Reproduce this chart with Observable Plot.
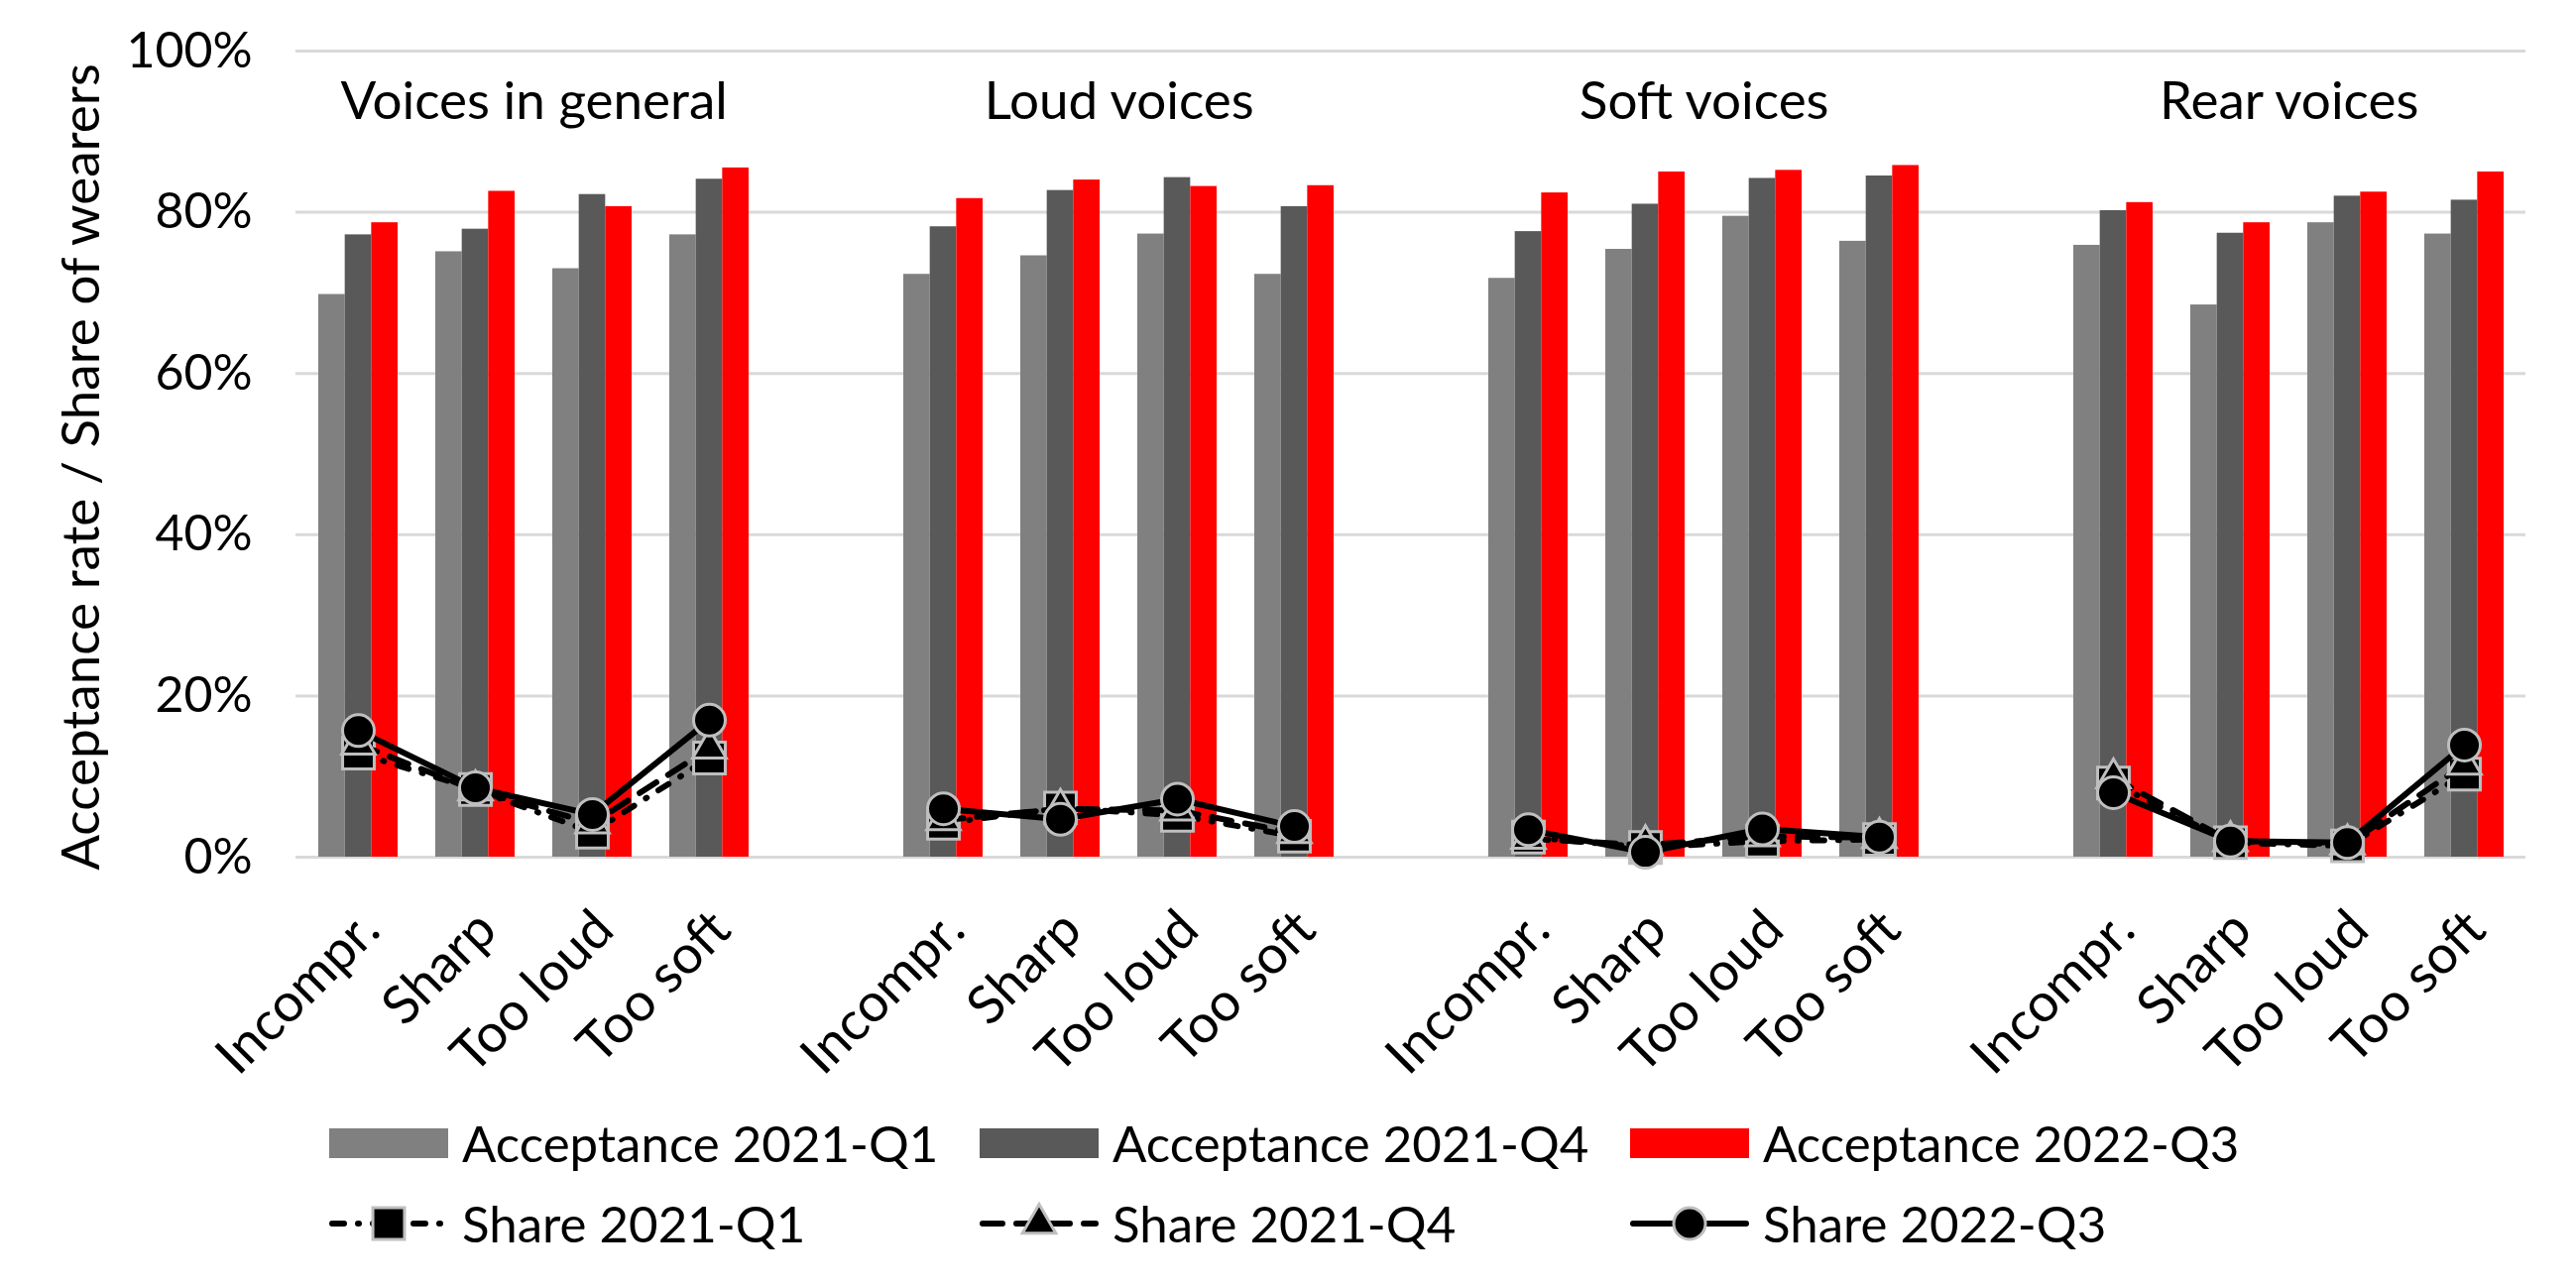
<!DOCTYPE html>
<html>
<head>
<meta charset="utf-8">
<script src="https://cdn.jsdelivr.net/npm/d3@7"></script>
<script src="https://cdn.jsdelivr.net/npm/@observablehq/plot@0.6"></script>
<style>
  html, body { margin: 0; padding: 0; background: #fff; }
  body { font-family: Lato, sans-serif; width: 2598px; height: 1299px; overflow: hidden; }
  #chart svg { display: block; }
  #legend { margin-top: 12px; padding-left: 332px; }
  .row { display: flex; height: 81px; align-items: center; }
  .item { display: flex; align-items: center; width: 656px; flex: none; }
  .item svg { display: block; flex: none; }
  .item span { font-size: 51px; margin-left: 14px; white-space: nowrap; line-height: 1; color: #000; }
</style>
</head>
<body>
<div id="chart"></div>
<div id="legend"></div>
<script>
// ---------- data ----------
const groups = ["Voices in general", "Loud voices", "Soft voices", "Rear voices"];
const categories = ["Incompr.", "Sharp", "Too loud", "Too soft"];
const yTicks = [0, 20, 40, 60, 80, 100];

const barSeries = ["Acceptance 2021-Q1", "Acceptance 2021-Q4", "Acceptance 2022-Q3"];
const lineSeries = ["Share 2021-Q1", "Share 2021-Q4", "Share 2022-Q3"];

// values in %, ordered group by group, category by category
const acc2021Q1 = [69.8, 75.1, 73.0, 77.2,  72.3, 74.6, 77.3, 72.3,  71.8, 75.4, 79.5, 76.4,  75.9, 68.5, 78.7, 77.3];
const acc2021Q4 = [77.2, 77.9, 82.2, 84.1,  78.2, 82.7, 84.3, 80.7,  77.6, 81.0, 84.2, 84.5,  80.2, 77.4, 82.0, 81.5];
const acc2022Q3 = [78.7, 82.6, 80.7, 85.5,  81.7, 84.0, 83.2, 83.3,  82.4, 85.0, 85.2, 85.8,  81.2, 78.7, 82.5, 85.0];

const share2021Q1 = [12.9, 8.4, 3.1, 12.3,  4.2, 6.1, 5.2, 2.6,  2.5, 1.2, 2.0, 2.2,  9.2, 1.8, 1.4, 10.3];
const share2021Q4 = [14.0, 8.3, 4.2, 13.5,  4.6, 6.0, 5.8, 3.0,  2.3, 1.5, 2.6, 2.4,  9.8, 2.0, 1.6, 11.5];
const share2022Q3 = [15.7, 8.6, 5.3, 17.0,  6.0, 4.7, 7.2, 3.8,  3.4, 0.6, 3.5, 2.5,  8.0, 2.0, 1.8, 13.9];

// ---------- styles ----------
const barColors = ["#808080", "#595959", "#ff0000"];
const lineDash = ["12,14,1,14", "20,14", null];
const lineSymbols = ["square", "triangle", "circle"];
const symbolR = [18, 12.5, 16];
const markerStroke = "#bfbfbf";

// ---------- build tables ----------
const key = (g, c) => g + "|" + c;
const slots = [];
groups.forEach((g, gi) => {
  categories.forEach(c => slots.push(key(gi, c)));
  if (gi < groups.length - 1) slots.push("gap" + gi);
});
const tickKeys = slots.filter(s => !s.startsWith("gap"));

function rowsFor(values, series) {
  return values.map((v, i) => {
    const gi = Math.floor(i / categories.length);
    const c = categories[i % categories.length];
    return {group: groups[gi], category: c, key: key(gi, c), series, value: v};
  });
}
const barData = [acc2021Q1, acc2021Q4, acc2022Q3].map((v, i) => rowsFor(v, barSeries[i]));
const lineData = [share2021Q1, share2021Q4, share2022Q3].map((v, i) => rowsFor(v, lineSeries[i]));

// ---------- layout ----------
const W = 2598, H = 1100, mL = 298, mR = 51, mT = 51, mB = 236;
const padIn = 0.324;
const step = (W - mL - mR) / slots.length;
const bw = step * (1 - padIn);
const sub = bw / 3;

const marks = [
  Plot.gridY({ticks: yTicks, stroke: "#d9d9d9", strokeOpacity: 1, strokeWidth: 3}),
  Plot.axisY({ticks: yTicks, tickSize: 0, tickPadding: 44, tickFormat: d => d + "%", label: null, fontSize: 50}),
  Plot.axisX(tickKeys, {
    tickSize: 0, tickPadding: 64, dx: 12, tickRotate: -45, textAnchor: "end", lineAnchor: "middle",
    tickFormat: k => k.split("|")[1], label: null, fontSize: 54
  })
];

barData.forEach((rows, i) => {
  marks.push(Plot.barY(rows, {
    x: "key", y: "value", fill: barColors[i],
    insetLeft: sub * i, insetRight: sub * (2 - i)
  }));
});

lineData.forEach((rows, i) => {
  marks.push(Plot.line(rows, {
    x: "key", y: "value", z: "group", stroke: "black", strokeWidth: 6,
    strokeDasharray: lineDash[i] || undefined, strokeLinecap: "round", strokeLinejoin: "round"
  }));
  marks.push(Plot.dot(rows, {
    x: "key", y: "value", symbol: lineSymbols[i], r: symbolR[i],
    fill: "black", stroke: markerStroke, strokeWidth: 3
  }));
});

// group titles centred over each group of four
marks.push(Plot.text(groups, {
  x: (d, i) => key(i, categories[1]), text: d => d,
  frameAnchor: "top", dy: 52, dx: step / 2, lineAnchor: "middle", fontSize: 53, fill: "black"
}));

// y axis title
marks.push(Plot.text(["Acceptance rate / Share of wearers"], {
  frameAnchor: "left", textAnchor: "middle", rotate: -90, dx: -199, dy: 13, lineAnchor: "bottom",
  text: d => d, fontSize: 53, fill: "black"
}));

const chart = Plot.plot({
  width: W, height: H,
  marginLeft: mL, marginRight: mR, marginTop: mT, marginBottom: mB,
  style: {fontFamily: "Lato, sans-serif", fontSize: "50px", background: "white", color: "black", overflow: "visible"},
  x: {type: "band", domain: slots, paddingInner: padIn, paddingOuter: padIn / 2, align: 0.5},
  y: {domain: [0, 100]},
  marks
});
document.getElementById("chart").appendChild(chart);

// ---------- legend ----------
const legend = d3.select("#legend");
const row1 = legend.append("div").attr("class", "row");
barSeries.forEach((s, i) => {
  const it = row1.append("div").attr("class", "item");
  const sv = it.append("svg").attr("width", 120).attr("height", 40);
  sv.append("rect").attr("x", 0).attr("y", 5).attr("width", 120).attr("height", 30).attr("fill", barColors[i]);
  it.append("span").text(s);
});
const row2 = legend.append("div").attr("class", "row");
const d3sym = {square: d3.symbolSquare, triangle: d3.symbolTriangle, circle: d3.symbolCircle};
lineSeries.forEach((s, i) => {
  const it = row2.append("div").attr("class", "item");
  const sv = it.append("svg").attr("width", 120).attr("height", 40).style("overflow", "visible");
  const ln = sv.append("line").attr("x1", 3).attr("x2", 117).attr("y1", 20).attr("y2", 20)
    .attr("stroke", "black").attr("stroke-width", 6).attr("stroke-linecap", "round");
  if (lineDash[i]) ln.attr("stroke-dasharray", lineDash[i]);
  sv.append("path")
    .attr("transform", "translate(60,20)")
    .attr("d", d3.symbol(d3sym[lineSymbols[i]], Math.PI * symbolR[i] * symbolR[i])())
    .attr("fill", "black").attr("stroke", markerStroke).attr("stroke-width", 3);
  it.append("span").text(s);
});
</script>
</body>
</html>
